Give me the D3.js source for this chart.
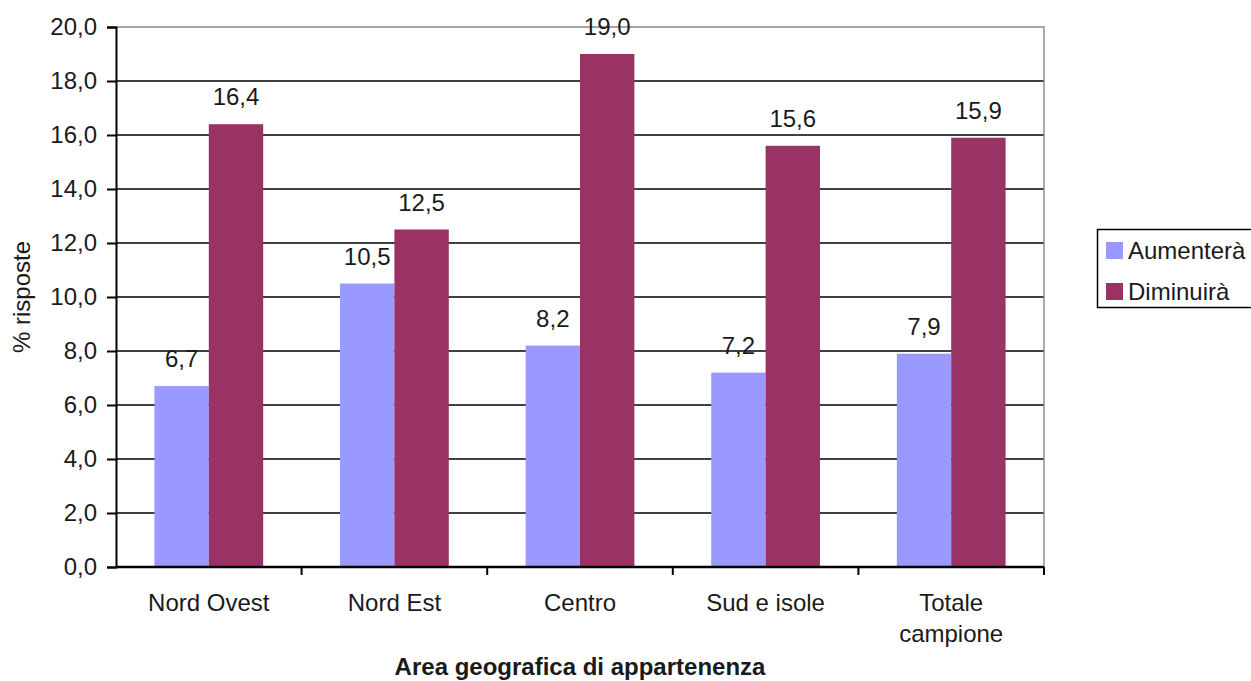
<!DOCTYPE html>
<html>
<head>
<meta charset="utf-8">
<script src="https://cdn.jsdelivr.net/npm/d3@7"></script>
<style>
  html, body { margin: 0; padding: 0; background: #fff; }
  svg { display: block; }
  text { font-family: "Liberation Sans", Arial, sans-serif; fill: #1a1a1a; }
</style>
</head>
<body>
<svg id="chart" width="1251" height="681"></svg>
<script>
// Areas and answer shares (% of respondents)
const categories = [["Nord Ovest"], ["Nord Est"], ["Centro"], ["Sud e isole"], ["Totale", "campione"]];
const seriesNames = ["Aumenterà", "Diminuirà"];
const aumentera = [6.7, 10.5, 8.2, 7.2, 7.9];
const diminuira = [16.4, 12.5, 19.0, 15.6, 15.9];
const yTicks = [0, 2, 4, 6, 8, 10, 12, 14, 16, 18, 20];
const colors = ["#9999FF", "#993366"];

const svg = d3.select("#chart");
const plot = { left: 116, right: 1044, top: 27, bottom: 567 };
const fmt = v => v.toFixed(1).replace(".", ",");
const fs = 24;

const catKeys = categories.map(c => c.join(" "));
const x0 = d3.scaleBand().domain(catKeys).range([plot.left, plot.right]).padding(0);
const gap = x0.bandwidth() * 0.207;
const x1 = d3.scaleBand().domain(seriesNames).range([gap, x0.bandwidth() - gap]).padding(0);
const y = d3.scaleLinear().domain([0, 20]).range([plot.bottom, plot.top]);

// Horizontal gridlines
svg.append("g").selectAll("line")
  .data(yTicks.filter(t => t > 0 && t < 20))
  .join("line")
  .attr("x1", plot.left).attr("x2", plot.right)
  .attr("y1", d => y(d)).attr("y2", d => y(d))
  .attr("stroke", "#000").attr("stroke-width", 1.4);

// Plot frame top/right
svg.append("path")
  .attr("d", `M${plot.left},${y(20)}H${plot.right}V${plot.bottom}`)
  .attr("fill", "none").attr("stroke", "#888").attr("stroke-width", 1.4);

// Bars
const rows = catKeys.map((k, i) => ({ key: k, values: [aumentera[i], diminuira[i]] }));
const groups = svg.append("g").selectAll("g")
  .data(rows).join("g")
  .attr("transform", d => `translate(${x0(d.key)},0)`);

groups.selectAll("rect")
  .data(d => d.values.map((v, j) => ({ name: seriesNames[j], v, j })))
  .join("rect")
  .attr("x", d => x1(d.name))
  .attr("width", x1.bandwidth())
  .attr("y", d => y(d.v))
  .attr("height", d => y(0) - y(d.v))
  .attr("fill", d => colors[d.j]);

groups.selectAll("text")
  .data(d => d.values.map((v, j) => ({ name: seriesNames[j], v })))
  .join("text")
  .attr("x", d => x1(d.name) + x1.bandwidth() / 2)
  .attr("y", d => y(d.v) - 19)
  .attr("text-anchor", "middle")
  .attr("font-size", fs)
  .text(d => fmt(d.v));

// Y axis
const yAxis = svg.append("g")
  .attr("transform", `translate(${plot.left},0)`)
  .call(d3.axisLeft(y).tickValues(yTicks).tickFormat(fmt).tickSize(9).tickPadding(10));
yAxis.select(".domain").attr("stroke", "#000").attr("stroke-width", 2);
yAxis.selectAll(".tick line").attr("stroke", "#000").attr("stroke-width", 2);
yAxis.selectAll(".tick text").attr("font-size", fs).attr("font-family", "Liberation Sans, Arial, sans-serif").attr("fill", "#1a1a1a");

// X axis line with ticks at category boundaries
svg.append("line")
  .attr("x1", plot.left).attr("x2", plot.right)
  .attr("y1", plot.bottom).attr("y2", plot.bottom)
  .attr("stroke", "#000").attr("stroke-width", 2.5);
svg.append("g").selectAll("line")
  .data(catKeys.slice(1).map(k => x0(k)).concat([plot.right]))
  .join("line")
  .attr("x1", d => d).attr("x2", d => d)
  .attr("y1", plot.bottom).attr("y2", plot.bottom + 8)
  .attr("stroke", "#000").attr("stroke-width", 2);

// Category labels
const catLabels = svg.append("g").selectAll("text")
  .data(categories.map((c, i) => ({ lines: c, key: catKeys[i] })))
  .join("text")
  .attr("x", d => x0(d.key) + x0.bandwidth() / 2)
  .attr("y", 611)
  .attr("text-anchor", "middle")
  .attr("font-size", fs);
catLabels.selectAll("tspan")
  .data(d => d.lines.map(l => ({ l, x: x0(d.key) + x0.bandwidth() / 2 })))
  .join("tspan")
  .attr("x", d => d.x)
  .attr("dy", (d, i) => i === 0 ? 0 : 31)
  .text(d => d.l);

// Axis titles
svg.append("text")
  .attr("x", (plot.left + plot.right) / 2)
  .attr("y", 675)
  .attr("text-anchor", "middle")
  .attr("font-size", 24)
  .attr("font-weight", "bold")
  .text("Area geografica di appartenenza");

svg.append("text")
  .attr("transform", `translate(30,${(plot.top + plot.bottom) / 2}) rotate(-90)`)
  .attr("text-anchor", "middle")
  .attr("font-size", fs)
  .text("% risposte");

// Legend
const legend = svg.append("g");
legend.append("rect")
  .attr("x", 1097.5).attr("y", 229.5)
  .attr("width", 160).attr("height", 78)
  .attr("fill", "#fff").attr("stroke", "#000").attr("stroke-width", 1.5);
const items = legend.selectAll("g.item")
  .data(seriesNames).join("g").attr("class", "item")
  .attr("transform", (d, i) => `translate(1106,${242 + i * 41})`);
items.append("rect").attr("width", 17).attr("height", 17).attr("fill", (d, i) => colors[i]);
items.append("text").attr("x", 22).attr("y", 17).attr("font-size", fs).text(d => d);
</script>
</body>
</html>
